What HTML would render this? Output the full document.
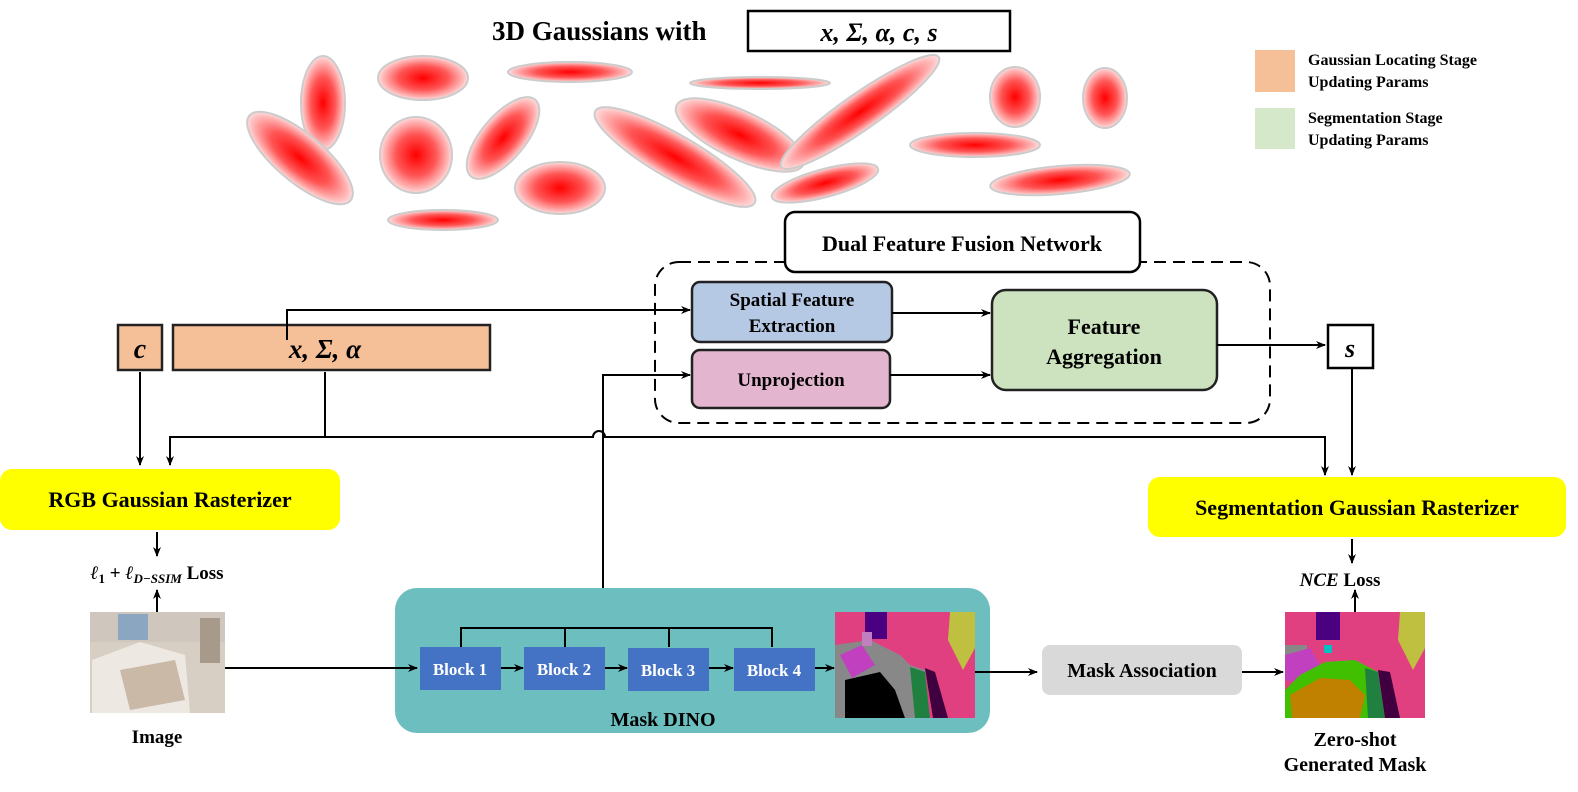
<!DOCTYPE html>
<html><head><meta charset="utf-8"><style>
html,body{margin:0;padding:0;background:#fff}
svg{display:block}
text{font-family:"Liberation Serif","DejaVu Serif",serif;font-weight:bold;fill:#000}
.m{font-style:italic}
</style></head><body>
<svg width="1578" height="792" viewBox="0 0 1578 792" xmlns="http://www.w3.org/2000/svg">
<defs>
<radialGradient id="g" cx="50%" cy="50%" r="50%">
<stop offset="0" stop-color="#ff0000"/><stop offset="0.55" stop-color="#f55"/><stop offset="0.9" stop-color="#fbb"/><stop offset="1" stop-color="#fdd"/>
</radialGradient>
<marker id="a" markerWidth="10" markerHeight="10" refX="9" refY="5" orient="auto" markerUnits="userSpaceOnUse"><path d="M0,1 L10,5 L0,9 L3,5z" fill="#000"/></marker>
</defs>
<g fill="url(#g)" stroke="#ccc" stroke-width="2">
<ellipse cx="323" cy="103" rx="22" ry="47"/>
<ellipse cx="423" cy="78" rx="45" ry="22"/>
<ellipse cx="300" cy="158" rx="66" ry="24" transform="rotate(40 300 158)"/>
<ellipse cx="416" cy="155" rx="36" ry="38"/>
<ellipse cx="503" cy="138" rx="50" ry="22" transform="rotate(-50 503 138)"/>
<ellipse cx="570" cy="72" rx="62" ry="10"/>
<ellipse cx="560" cy="188" rx="45" ry="26"/>
<ellipse cx="675" cy="157" rx="92" ry="22" transform="rotate(30 675 157)"/>
<ellipse cx="760" cy="83" rx="70" ry="6"/>
<ellipse cx="740" cy="135" rx="70" ry="24" transform="rotate(25 740 135)"/>
<ellipse cx="860" cy="112" rx="96" ry="18" transform="rotate(-35 860 112)"/>
<ellipse cx="825" cy="183" rx="55" ry="14" transform="rotate(-15 825 183)"/>
<ellipse cx="975" cy="145" rx="65" ry="12"/>
<ellipse cx="1015" cy="97" rx="25" ry="30"/>
<ellipse cx="1105" cy="98" rx="22" ry="30"/>
<ellipse cx="1060" cy="180" rx="70" ry="14" transform="rotate(-5 1060 180)"/>
<ellipse cx="443" cy="220" rx="55" ry="10"/>
</g>
<text x="492" y="40" font-size="27">3D Gaussians with</text>
<rect x="748" y="11" width="262" height="40" fill="#fff" stroke="#000" stroke-width="2.5"/>
<text x="879" y="41" font-size="26" class="m" text-anchor="middle">x,  Σ,  α,  c,  s</text>
<rect x="1255" y="50" width="40" height="42" fill="#f5bf98"/>
<text x="1308" y="65" font-size="16">Gaussian Locating Stage</text>
<text x="1308" y="87" font-size="16">Updating Params</text>
<rect x="1255" y="108" width="40" height="41" fill="#d5e8c9"/>
<text x="1308" y="123" font-size="16">Segmentation Stage</text>
<text x="1308" y="145" font-size="16">Updating Params</text>

<rect x="655" y="262" width="615" height="161" rx="24" fill="none" stroke="#000" stroke-width="2" stroke-dasharray="12,7"/>
<rect x="785" y="212" width="355" height="60" rx="10" fill="#fff" stroke="#000" stroke-width="2.5"/>
<text x="962" y="251" font-size="22" text-anchor="middle">Dual Feature Fusion Network</text>
<rect x="692" y="282" width="200" height="60" rx="8" fill="#b5c8e4" stroke="#222" stroke-width="2.5"/>
<text x="792" y="306" font-size="19" text-anchor="middle">Spatial Feature</text>
<text x="792" y="332" font-size="19" text-anchor="middle">Extraction</text>
<rect x="692" y="350" width="198" height="58" rx="8" fill="#e3b5cf" stroke="#222" stroke-width="2.5"/>
<text x="791" y="386" font-size="19" text-anchor="middle">Unprojection</text>
<rect x="992" y="290" width="225" height="100" rx="14" fill="#cde3c0" stroke="#222" stroke-width="2.5"/>
<text x="1104" y="334" font-size="22" text-anchor="middle">Feature</text>
<text x="1104" y="364" font-size="22" text-anchor="middle">Aggregation</text>
<rect x="1328" y="325" width="45" height="43" fill="#fff" stroke="#000" stroke-width="2.5"/>
<text x="1350" y="357" font-size="26" class="m" text-anchor="middle">s</text>

<rect x="118" y="325" width="44" height="45" fill="#f5bf98" stroke="#222" stroke-width="2.5"/>
<text x="140" y="358" font-size="28" class="m" text-anchor="middle">c</text>
<rect x="173" y="325" width="317" height="45" fill="#f5bf98" stroke="#222" stroke-width="2.5"/>
<text x="325" y="358" font-size="27" class="m" text-anchor="middle">x,   Σ,   α</text>

<rect x="0" y="469" width="340" height="61" rx="12" fill="#ffff00"/>
<text x="170" y="507" font-size="22" text-anchor="middle">RGB Gaussian Rasterizer</text>
<rect x="1148" y="477" width="418" height="60" rx="12" fill="#ffff00"/>
<text x="1357" y="515" font-size="22" text-anchor="middle">Segmentation Gaussian Rasterizer</text>
<text x="157" y="579" font-size="19" text-anchor="middle"><tspan class="m">ℓ</tspan><tspan font-size="13" dy="4">1</tspan><tspan dy="-4"> + </tspan><tspan class="m">ℓ</tspan><tspan font-size="13" dy="4" class="m">D−SSIM</tspan><tspan dy="-4"> Loss</tspan></text>
<text x="1340" y="586" font-size="19" text-anchor="middle"><tspan class="m">NCE</tspan> Loss</text>

<g stroke="#000" stroke-width="2" fill="none">
<path d="M140 372 V465" marker-end="url(#a)"/>
<path d="M325 372 V437 H170 V465" marker-end="url(#a)"/>
<path d="M325 437 H593 a6 6 0 0 1 12 0 H1325 V475" marker-end="url(#a)"/>
<path d="M1352 368 V475" marker-end="url(#a)"/>
<path d="M1352 539 V563" marker-end="url(#a)"/>
<path d="M1355 612 V590" marker-end="url(#a)"/>
<path d="M157 532 V556" marker-end="url(#a)"/>
<path d="M157 612 V590" marker-end="url(#a)"/>
<path d="M287 340 V310 H690" marker-end="url(#a)"/>
<path d="M603 628 V375 H690" marker-end="url(#a)"/>
<path d="M892 313 H990" marker-end="url(#a)"/>
<path d="M890 375 H990" marker-end="url(#a)"/>
<path d="M1217 345 H1325" marker-end="url(#a)"/>
</g>

<rect x="395" y="588" width="595" height="145" rx="22" fill="#6dbfbf"/>
<text x="663" y="726" font-size="20" text-anchor="middle">Mask DINO</text>
<g stroke="#000" stroke-width="2" fill="none">
<path d="M461 647 V628 H772 V647 M565 628 V647 M669 628 V647"/>
<path d="M225 668 H417" marker-end="url(#a)"/>
<path d="M501 668 H523" marker-end="url(#a)"/>
<path d="M605 668 H627" marker-end="url(#a)"/>
<path d="M709 668 H733" marker-end="url(#a)"/>
<path d="M815 668 H834" marker-end="url(#a)"/>
<path d="M975 672 H1037" marker-end="url(#a)"/>
<path d="M1242 672 H1283" marker-end="url(#a)"/>
</g>
<g fill="#4472c4">
<rect x="420" y="647" width="81" height="43"/><rect x="524" y="647" width="81" height="43"/>
<rect x="628" y="648" width="81" height="43"/><rect x="734" y="648" width="81" height="43"/>
</g>
<g font-size="17" text-anchor="middle" style="fill:#fff">
<text x="460" y="675" style="fill:#fff">Block 1</text><text x="564" y="675" style="fill:#fff">Block 2</text>
<text x="668" y="676" style="fill:#fff">Block 3</text><text x="774" y="676" style="fill:#fff">Block 4</text>
</g>

<!-- image -->
<rect x="90" y="612" width="135" height="101" fill="#d8cfc4"/>
<rect x="90" y="612" width="135" height="30" fill="#cfc7bd"/>
<rect x="118" y="614" width="30" height="26" fill="#8aa6c0"/>
<rect x="200" y="618" width="20" height="45" fill="#a79a8a"/>
<path d="M92 660 L140 642 L185 655 L190 713 L92 713z" fill="#eee8e2"/>
<path d="M120 670 L175 660 L185 700 L130 710z" fill="#c9b9a6"/>
<text x="157" y="743" font-size="19" text-anchor="middle">Image</text>

<!-- seg image 1 -->
<rect x="835" y="612" width="140" height="106" fill="#e04080"/>
<rect x="865" y="612" width="22" height="27" fill="#4a0080"/>
<path d="M950 612 L975 612 L975 648 L963 670 L948 640z" fill="#c0c040"/>
<path d="M835 645 L870 640 L900 655 L910 665 L925 670 L930 718 L835 718z" fill="#888"/>
<path d="M845 680 L880 672 L895 690 L905 718 L845 718z" fill="#000"/>
<path d="M910 667 L925 672 L930 718 L915 718z" fill="#208040"/>
<path d="M925 668 L935 672 L948 718 L933 718z" fill="#400040"/>
<path d="M840 655 L862 645 L875 665 L852 678z" fill="#c040c0"/>
<rect x="862" y="632" width="10" height="14" fill="#c080c0"/>

<rect x="1042" y="645" width="200" height="50" rx="8" fill="#d9d9d9"/>
<text x="1142" y="677" font-size="20" text-anchor="middle">Mask Association</text>

<!-- seg image 2 -->
<rect x="1285" y="612" width="140" height="106" fill="#e04080"/>
<rect x="1316" y="612" width="24" height="28" fill="#4a0080"/>
<path d="M1400 612 L1425 612 L1425 648 L1413 670 L1398 640z" fill="#c0c040"/>
<rect x="1285" y="645" width="22" height="15" fill="#888"/>
<path d="M1285 655 L1310 648 L1320 665 L1295 682 L1285 680z" fill="#c040c0"/>
<path d="M1300 675 L1325 662 L1355 660 L1378 672 L1380 718 L1285 718 L1285 690z" fill="#40c000"/>
<path d="M1290 695 L1320 678 L1350 680 L1365 695 L1360 718 L1292 718z" fill="#c08000"/>
<path d="M1365 668 L1378 672 L1385 718 L1368 718z" fill="#208040"/>
<path d="M1378 670 L1390 672 L1400 718 L1385 718z" fill="#400040"/>
<rect x="1324" y="645" width="8" height="8" fill="#00c0c0"/>
<text x="1355" y="746" font-size="20" text-anchor="middle">Zero-shot</text>
<text x="1355" y="771" font-size="20" text-anchor="middle">Generated Mask</text>
</svg>
</body></html>
